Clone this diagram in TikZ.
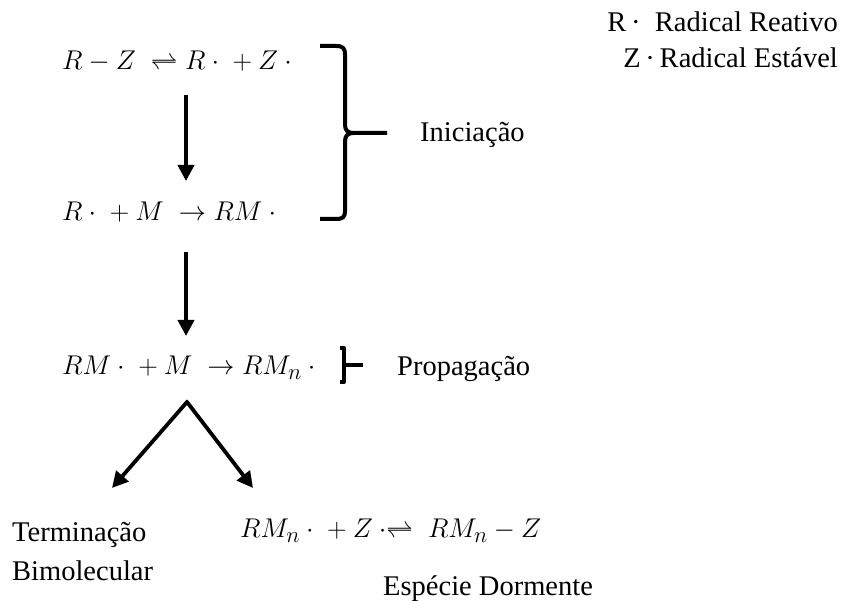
\documentclass[tikz,border=0pt]{standalone}
\usepackage{graphicx}
\usepackage{fontspec}
\setmainfont{Liberation Serif}
\usetikzlibrary{arrows.meta}
\newcommand\rad[1]{#1\mskip4mu{\cdot}}
\newcommand\bigeq[1]{\scalebox{1.09}{\Huge$#1$}}
\tikzset{
  txt/.style={inner sep=0pt, font=\fontsize{28.5}{34}\selectfont},
  eqn/.style={inner sep=0pt},
  legend/.style={inner sep=0pt, font=\fontsize{28.5}{34}\selectfont},
  arr/.style={line width=3.8pt, -{Triangle[width=16pt,length=16pt]}},
  brack/.style={line width=4pt, line join=round}
}
\begin{document}
\begin{tikzpicture}[x=1pt,y=-1pt]
\useasboundingbox (0,0) rectangle (844,601);
% legend
\node[legend, anchor=base east] (rr) at (838,32) {R\,·\ \ Radical Reativo};
\node[legend, anchor=base east] (ze) at (838,68) {Z\,·\,Radical Estável};
% equations
\node[eqn, anchor=base west] (eq1) at (62,70) {\bigeq{R-Z\;\rightleftharpoons\rad{R}\;+\rad{Z}}};
\node[eqn, anchor=base west] (eq2) at (62,221) {\bigeq{\rad{R}\;+M\; \rightarrow RM\mskip4mu{\cdot}}};
\node[eqn, anchor=base west] (eq3) at (62,375) {\bigeq{\rad{RM}\;+M\; \rightarrow \rad{RM_n}}};
\node[eqn, anchor=base west] (eq4) at (240,538) {\bigeq{\rad{RM_n}\;+{Z\mskip4mu{\cdot}}{\rightleftharpoons}\;\;RM_n-Z}};
% labels
\node[txt, anchor=base west] (ini) at (420,142) {Iniciação};
\node[txt, anchor=base west] (prop) at (397,376) {Propagação};
\node[txt, anchor=base west] (term) at (12,542) {Terminação};
\node[txt, anchor=base west] (bim) at (12,580) {Bimolecular};
\node[txt, anchor=base west] (esp) at (383,595) {Espécie Dormente};
% arrow coordinates
\coordinate (a1s) at (186,95);
\coordinate (a1e) at (186,181);
\coordinate (a2s) at (186,252);
\coordinate (a2e) at (186,336);
\coordinate (apex) at (187,402);
\coordinate (tl) at (112,488);
\coordinate (tr) at (253,488);
\draw[arr] (a1s) -- (a1e);
\draw[arr] (a2s) -- (a2e);
\draw[arr] (apex) -- (tl);
\draw[arr] (apex) -- (tr);
\draw[line width=3.8pt] ([xshift=-1.2pt,yshift=1pt]apex) -- (apex) -- ([xshift=1.2pt,yshift=1pt]apex);
% bracket 1
\coordinate (b1t) at (320,46);
\coordinate (b1m) at (387,133);
\coordinate (b1b) at (320,219);
\draw[brack] (b1t) -- (336,46) .. controls (343,46) and (345,48) .. (345,55)
  -- (345,124) .. controls (345,130) and (347,133) .. (354,133) -- (b1m);
\draw[brack] (354,133) .. controls (347,133) and (345,136) .. (345,142)
  -- (345,211) .. controls (345,217) and (343,219) .. (336,219) -- (b1b);
% bracket 2
\coordinate (b2t) at (340,348);
\coordinate (b2m) at (363,365);
\coordinate (b2b) at (340,382);
\draw[brack] (b2t) -- (344,348) -- (344,382) -- (b2b);
\draw[brack] (344,365) -- (b2m);
\end{tikzpicture}
\end{document}
